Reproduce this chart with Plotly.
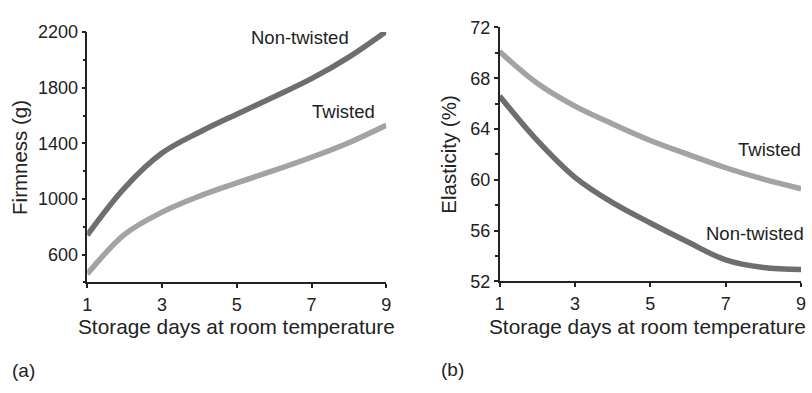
import plotly.graph_objects as go

days = [1, 2, 3, 4, 5, 6, 7, 8, 9]

firm_nontwisted = [740, 1080, 1330, 1480, 1610, 1735, 1865, 2020, 2205]
firm_twisted = [460, 745, 905, 1020, 1115, 1205, 1300, 1405, 1530]

elast_twisted = [70.1, 67.6, 65.8, 64.4, 63.1, 62.0, 60.95, 60.05, 59.3]
elast_nontwisted = [66.6, 63.1, 60.2, 58.2, 56.6, 55.1, 53.7, 53.1, 52.95]

x_ticks = [1, 3, 5, 7, 9]
firm_ticks = [600, 1000, 1400, 1800, 2200]
elast_ticks = [52, 56, 60, 64, 68, 72]

DARK = "#6e6e6e"
LIGHT = "#a3a3a3"
FONT = "Liberation Sans, Arial, sans-serif"
W, H = 812, 393

fig = go.Figure()
line_kw = dict(width=5.5, shape="spline", smoothing=1)
fig.add_trace(go.Scatter(x=days, y=firm_nontwisted, mode="lines", line=dict(color=DARK, **line_kw), xaxis="x", yaxis="y", showlegend=False))
fig.add_trace(go.Scatter(x=days, y=firm_twisted, mode="lines", line=dict(color=LIGHT, **line_kw), xaxis="x", yaxis="y", showlegend=False))
fig.add_trace(go.Scatter(x=days, y=elast_twisted, mode="lines", line=dict(color=LIGHT, **line_kw), xaxis="x2", yaxis="y2", showlegend=False))
fig.add_trace(go.Scatter(x=days, y=elast_nontwisted, mode="lines", line=dict(color=DARK, **line_kw), xaxis="x2", yaxis="y2", showlegend=False))

def px_x(p):
    return p / W

def px_y(p):
    return 1 - p / H

axis_common = dict(showgrid=False, zeroline=False, showline=True, linecolor="#222", linewidth=1.5,
                   ticks="outside", ticklen=4, tickwidth=1.5, tickcolor="#222",
                   tickfont=dict(family=FONT, size=18, color="#222"))

fig.update_layout(
    width=W, height=H,
    margin=dict(l=0, r=0, t=0, b=0),
    paper_bgcolor="white", plot_bgcolor="white",
    xaxis=dict(domain=[px_x(83.3), px_x(386)], range=[1, 9], tickvals=x_ticks, anchor="y",
               ticklabelstandoff=1, **axis_common),
    yaxis=dict(domain=[px_y(287), px_y(23.3)], range=[400, 2200], tickvals=firm_ticks, anchor="x",
               minor=dict(dtick=200, tick0=0, ticks="outside", ticklen=3, tickcolor="#222"), **axis_common),
    xaxis2=dict(domain=[px_x(500.7), px_x(806)], range=[1, 9], tickvals=x_ticks, anchor="y2",
                ticklabelstandoff=1, **axis_common),
    yaxis2=dict(domain=[px_y(286), px_y(18.3)], range=[52, 72], tickvals=elast_ticks, anchor="x2",
                minor=dict(dtick=2, tick0=0, ticks="outside", ticklen=3, tickcolor="#222"), **axis_common),
)

def ann(text, x, y, size=19, angle=0, xanchor="center"):
    fig.add_annotation(text=text, x=px_x(x), y=px_y(y), xref="paper", yref="paper",
                       showarrow=False, xanchor=xanchor, yanchor="middle", textangle=angle,
                       font=dict(family=FONT, size=size, color="#222"))

ann("Storage days at room temperature", 234, 333, size=20.8)
ann("Storage days at room temperature", 651, 333, size=20.8)
ann("Firmness (g)", 14, 155, size=20.5, angle=-90)
ann("Elasticity (%)", 449, 152, size=20.5, angle=-90)
ann("Non-twisted", 299, 29, size=18.5)
ann("Twisted", 343, 107, size=18.5)
ann("Twisted", 774, 147, size=18.5)
ann("Non-twisted", 759, 235, size=18.5)
ann("(a)", 19, 380, size=19)
ann("(b)", 453, 379, size=19)

fig.write_html("out.html")
